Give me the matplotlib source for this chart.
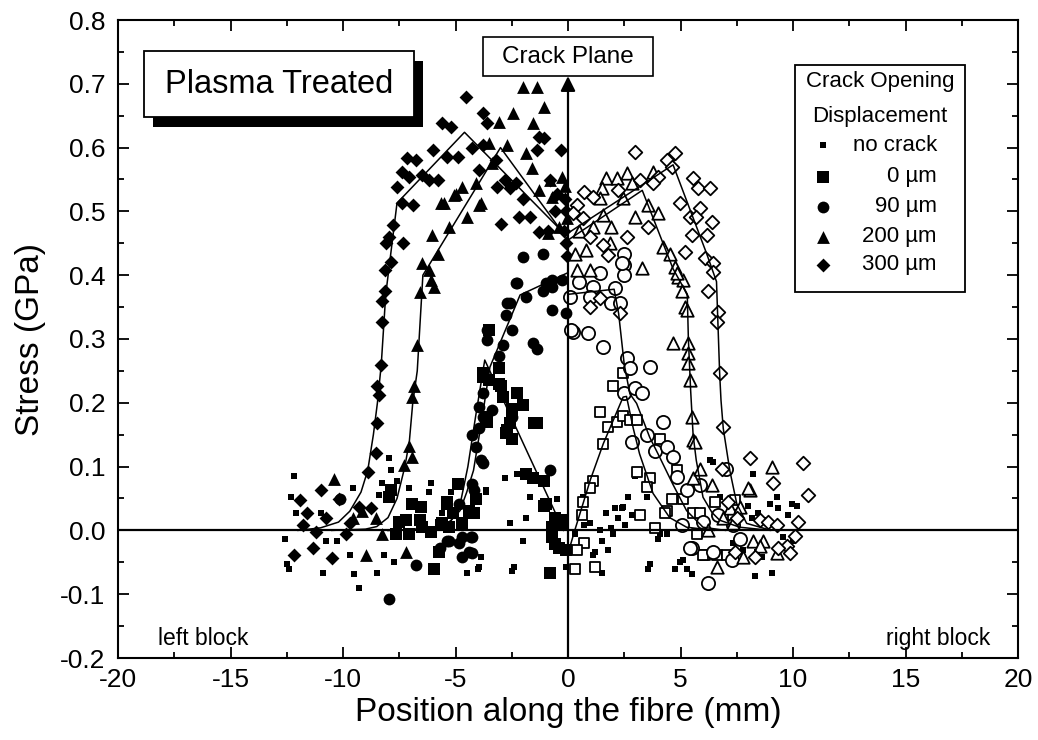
import matplotlib
matplotlib.use("Agg")
import matplotlib.pyplot as plt
from matplotlib.patches import Rectangle
from matplotlib.ticker import MultipleLocator

plt.rcParams['font.family'] = ['Liberation Sans', 'DejaVu Sans']
plt.rcParams['axes.unicode_minus'] = False

# ---------------- data ----------------
# 300 um (filled diamonds, left block)
d300L_x = [-4.53,-3.8,-3.58,-5.58,-5.18,-1.27,-1.05,-0.3,-1.4,-7.14,-6.75,-6.0,-5.4,-4.9,-4.25,-3.8,
           -7.36,-7.05,-6.47,-6.16,-5.8,-7.58,-6.9,-7.4,-7.8,-7.95,-7.35,-8.1,-7.85,-8.15,-8.15,-8.25,
           -8.25,-8.3,-3.94,-3.14,-2.6,-2.02,-2.96,-2.16,-1.71,-1.27,-0.82,-0.47,-3.2,-2.8,-2.3,
           -8.47,-8.4,-8.47,-8.52,-8.9,-10.97,-10.2,-11.9,-11.6,-10.75,-11.8,-11.2,-9.86,-9.3,-8.75,
           -11.35,-12.2,-10.5,-9.7,-0.15,-0.1,-0.2,-0.1,-0.05,-0.6,-0.9]
d300L_y = [0.68,0.654,0.638,0.638,0.632,0.617,0.615,0.596,0.596,0.584,0.58,0.596,0.585,0.585,0.6,0.604,
           0.562,0.554,0.557,0.549,0.549,0.538,0.51,0.513,0.478,0.46,0.45,0.45,0.42,0.408,0.376,0.36,
           0.326,0.26,0.565,0.538,0.537,0.52,0.48,0.491,0.491,0.467,0.549,0.528,0.58,0.549,0.544,
           0.227,0.212,0.168,0.122,0.091,0.063,0.05,0.047,0.027,0.019,0.008,-0.003,-0.005,0.036,0.035,
           -0.027,-0.039,-0.044,0.011,0.52,0.50,0.47,0.45,0.43,0.50,0.47]

# 200 um (filled triangles, left block)
t200L_x = [-2.02,-1.4,-1.05,-2.46,-3.05,-1.56,-3.5,-2.7,-1.85,-1.6,-3.36,-4.07,-4.7,-5.05,-5.5,-3.85,
           -4.47,-5.27,-0.82,-0.25,-1.27,-0.69,-0.9,-0.38,-5.63,-4.97,-3.94,-6.03,-5.8,-6.47,-6.16,
           -6.07,-5.94,-6.6,-6.7,-6.83,-6.92,-7.05,-6.92,-7.27,-10.4,-8.97,-8.25,-9.57,-9.14,-7.2,-8.52,
           -0.15,-0.05]
t200L_y = [0.695,0.695,0.664,0.654,0.64,0.638,0.607,0.604,0.591,0.568,0.576,0.544,0.538,0.525,0.513,0.513,
           0.491,0.475,0.549,0.554,0.533,0.522,0.466,0.475,0.513,0.528,0.51,0.463,0.434,0.419,0.408,
           0.392,0.381,0.373,0.29,0.227,0.209,0.133,0.115,0.102,0.081,-0.039,-0.005,0.02,0.031,-0.034,0.02,
           0.54,0.49]

# 90 um (filled circles, left block)
c90L_x = [-2.25,-1.85,-0.96,-0.69,-1.13,-0.69,-0.07,-2.69,-2.74,-2.51,-3.58,-3.58,-1.56,-1.4,-2.91,-3.05,
          -3.8,-3.94,-3.36,-3.8,-3.94,-4.25,-2.47,-4.07,-3.85,-3.8,-0.82,-4.25,-4.16,-4.83,-5.36,-4.7,
          -4.25,-4.7,-4.25,-5.7,-7.94,-6.74,-10.15,-5.27,-4.83,-4.3,-4.38,-2.02,-1.13,-2.3,-2.6,-0.69,-0.25]
c90L_y = [0.387,0.366,0.387,0.381,0.376,0.345,0.34,0.356,0.337,0.314,0.314,0.298,0.293,0.285,0.29,0.274,
          0.215,0.193,0.188,0.177,0.161,0.149,0.177,0.13,0.11,0.105,0.094,0.073,0.063,0.042,-0.016,-0.011,
          -0.011,-0.042,-0.036,-0.027,-0.107,-0.055,0.05,-0.016,-0.02,-0.011,-0.034,0.428,0.434,0.387,0.356,0.392,0.392]

# 0 um (filled squares, left block)
s0L_x = [-3.49,-3.8,-3.49,-3.05,-2.96,-2.91,-2.25,-2.02,-2.51,-1.4,-2.6,-2.74,-2.47,-3.63,-3.58,-1.85,
         -1.56,-1.05,-0.96,-4.9,-4.07,-4.38,-5.4,-5.13,-5.58,-0.6,-0.29,-0.69,-0.38,-0.82,-0.07,
         -3.8,-3.05,-1.49,-2.51,-2.69,-7.87,-7.94,-6.92,-6.52,-5.4,-4.16,-7.5,-7.2,-7.63,-6.47,-6.07,
         -5.63,-5.27,-4.7,-6.6,-7.05,-5.72,-5.94,-1.05,-0.69,-0.25,-0.6]
s0L_y = [0.314,0.246,0.235,0.254,0.227,0.209,0.215,0.196,0.191,0.168,0.168,0.152,0.144,0.177,0.17,0.089,
         0.082,0.078,0.042,0.073,0.05,0.031,0.042,0.027,0.011,0.02,0.011,-0.011,-0.027,-0.066,-0.031,
         0.24,0.23,0.168,0.185,0.157,0.063,0.052,0.042,0.036,0.044,0.028,0.013,0.016,-0.005,0.005,-0.003,
         0.008,0.005,0.011,0.016,-0.005,-0.034,-0.06,0.039,0.005,0.016,-0.021]

# no crack (small filled squares, both sides)
nc_x = [-12.17,-12.3,-12.08,-12.6,-12.5,-12.4,-9.57,-10.97,-10.75,-10.25,-9.7,-10.9,-9.5,-9.27,-8.47,-8.16,
        -7.72,-7.94,-7.87,-8.25,-8.4,-7.58,-7.05,-6.07,-6.16,-5.58,-5.18,-3.63,-2.82,-2.25,-1.71,-1.85,
        -2.6,-2.02,-2.51,-4.47,-3.94,-0.47,-0.07,-2.38,-4.02,-3.85,-3.63,
        2.65,3.49,2.07,2.38,1.71,2.83,2.2,2.52,0.96,1.4,1.93,1.98,1.49,1.18,1.76,1.09,1.53,3.63,3.54,
        4.07,3.98,4.38,2.96,4.74,4.96,5.27,5.5,0.29,0.73,0.65,6.3,6.43,8.2,9.28,8.97,9.32,9.95,10.17,
        9.77,7.99,8.43,8.16,8.65,6.74,9.55,10.0,9.41,7.32,7.77,8.38,8.61,8.3,9.05,5.1,2.44]
nc_y = [0.086,0.052,0.027,-0.013,-0.052,-0.06,0.066,0.027,-0.016,-0.016,-0.039,-0.066,-0.068,-0.091,-0.066,-0.039,
        -0.05,0.113,0.094,0.075,0.055,0.078,0.066,0.075,0.06,0.028,0.06,0.06,0.082,0.089,0.052,0.02,
        0.011,-0.016,-0.063,-0.066,-0.058,0.05,-0.058,-0.058,-0.06,-0.042,0.063,
        0.052,0.052,0.035,0.035,0.027,0.024,0.019,0.008,0.011,0.0,0.003,-0.005,-0.016,-0.034,-0.031,-0.039,-0.066,-0.052,-0.06,
        -0.005,-0.013,-0.005,0.086,-0.06,-0.05,-0.06,-0.068,-0.005,0.008,0.052,0.11,0.107,0.089,0.052,0.042,0.035,0.042,0.039,
        0.024,0.039,0.027,0.02,0.016,0.052,-0.011,-0.016,-0.027,-0.019,-0.031,-0.034,-0.042,-0.071,-0.066,-0.047,0.036]

# 0 um (open squares, right block)
s0R_x = [1.98,2.43,1.4,1.76,2.16,2.43,2.74,3.05,1.56,4.07,3.05,3.63,3.49,1.09,0.96,0.65,0.6,3.18,4.38,3.85,
         0.73,0.42,0.29,1.18,4.83,4.6,5.1,4.29,6.07,6.52,6.6,7.32,5.72,5.56,5.85,6.0,7.05,7.4]
s0R_y = [0.227,0.246,0.185,0.162,0.17,0.18,0.173,0.173,0.136,0.144,0.091,0.082,0.068,0.078,0.066,0.044,0.024,0.024,0.031,0.003,
         -0.02,-0.031,-0.06,-0.058,0.094,0.05,0.05,0.028,-0.039,0.044,-0.039,0.024,-0.005,0.027,0.027,-0.039,-0.039,0.047]

# 90 um (open circles, right block)
c90R_x = [2.51,2.51,2.51,2.38,1.4,1.09,0.51,0.07,2.07,1.93,0.96,0.2,0.87,1.56,2.6,3.63,2.29,2.74,2.51,2.96,
          3.27,2.83,3.49,4.2,3.85,4.38,4.65,4.83,5.27,5.05,5.5,5.85,5.4,6.43,7.28,6.2,7.63,6.65,7.0,6.0,7.32,0.15]
c90R_y = [0.434,0.416,0.4,0.419,0.403,0.381,0.389,0.366,0.38,0.356,0.366,0.311,0.309,0.287,0.27,0.256,0.356,0.254,0.215,0.223,
          0.215,0.138,0.149,0.17,0.125,0.13,0.115,0.083,0.063,0.008,-0.028,0.071,-0.027,-0.034,-0.047,-0.082,-0.013,0.024,0.097,0.013,0.008,0.314]

# 200 um (open triangles, right block)
t200R_x = [1.71,2.16,2.6,2.83,3.76,1.49,1.4,1.56,1.09,1.93,2.96,3.54,4.0,2.43,4.2,4.52,3.3,4.74,4.87,5.1,
           5.05,5.18,5.27,4.65,5.32,5.32,5.32,0.51,0.82,0.29,0.38,0.96,1.85,4.83,5.4,5.5,5.56,5.56,5.64,5.85,
           6.38,8.07,9.05,7.19,7.63,6.87,7.32,8.2,8.65,7.77,8.52,9.28,6.6,6.2,8.0]
t200R_y = [0.552,0.552,0.56,0.544,0.562,0.537,0.521,0.494,0.475,0.475,0.491,0.51,0.497,0.521,0.444,0.434,0.411,0.413,0.397,0.392,
           0.376,0.35,0.345,0.293,0.293,0.278,0.262,0.47,0.439,0.434,0.408,0.408,0.45,0.403,0.235,0.177,0.141,0.082,0.138,0.097,
           0.071,0.063,0.099,0.035,0.036,0.019,0.011,-0.016,-0.016,-0.042,-0.024,-0.036,-0.058,0.0,0.066]

# 300 um (open diamonds, right block)
d300R_x = [2.96,4.38,4.74,4.6,4.0,3.18,3.76,5.56,5.78,6.3,2.2,4.96,5.85,5.4,5.7,6.38,3.54,5.5,6.16,2.6,
           5.18,6.07,6.43,6.43,6.2,6.65,6.6,6.74,0.73,1.09,0.42,0.65,0.96,0.2,1.56,1.76,0.96,1.4,2.29,6.87,
           8.07,6.83,9.1,10.44,10.66,7.5,8.52,8.87,9.28,10.2,10.1,9.72,9.86,9.32,8.3,7.41,7.1]
d300R_y = [0.593,0.58,0.591,0.569,0.554,0.549,0.544,0.552,0.537,0.537,0.533,0.513,0.505,0.491,0.491,0.483,0.475,0.463,0.463,0.46,
           0.436,0.427,0.419,0.405,0.376,0.342,0.326,0.246,0.53,0.522,0.51,0.49,0.46,0.497,0.447,0.431,0.35,0.364,0.34,0.162,
           0.113,0.097,0.075,0.105,0.055,0.019,0.016,0.013,0.008,0.013,-0.008,-0.024,-0.036,-0.027,-0.042,-0.034,0.044]

# guide curves
line_d300L_x = [-12.0,-11.0,-10.2,-9.7,-9.2,-8.9,-8.65,-8.47,-8.3,-8.1,-7.6,-4.6,-0.3]
line_d300L_y = [0.0,0.004,0.013,0.03,0.06,0.094,0.15,0.2,0.26,0.37,0.513,0.624,0.47]
line_t200L_x = [-10.5,-9.0,-8.5,-8.0,-7.6,-7.25,-7.05,-6.9,-6.7,-6.45,-3.0,-0.1]
line_t200L_y = [0.0,0.002,0.006,0.02,0.05,0.1,0.14,0.2,0.25,0.40,0.60,0.46]
line_c90L_x = [-8.0,-6.0,-5.3,-4.8,-4.5,-4.2,-3.8,-3.47,-2.13,-0.06]
line_c90L_y = [0.0,0.003,0.012,0.031,0.06,0.094,0.18,0.256,0.369,0.403]
line_s0L_x = [-8.0,-6.0,-5.2,-4.8,-4.45,-4.1,-3.7,-0.2]
line_s0L_y = [0.0,0.003,0.015,0.04,0.1,0.18,0.267,0.0]
line_s0R_x = [0.05,0.3,1.0,1.57,2.45,2.6,2.9,3.18,3.78,4.52,5.27,6.5]
line_s0R_y = [-0.03,0.0,0.08,0.136,0.209,0.21,0.16,0.12,0.058,0.02,0.005,0.0]
line_c90R_x = [0.0,2.05,2.25,2.5,2.75,3.05,3.63,4.07,4.65,5.27,6.0,7.0]
line_c90R_y = [0.37,0.378,0.34,0.26,0.214,0.199,0.146,0.115,0.073,0.031,0.005,0.0]
line_t200R_x = [0.0,3.3,4.67,5.3,5.35,5.45,5.56,5.7,6.0,6.4,6.74,7.63,9.0]
line_t200R_y = [0.455,0.533,0.41,0.37,0.30,0.22,0.15,0.11,0.052,0.028,0.016,0.005,0.0]
line_d300R_x = [0.0,4.67,6.16,6.6,6.74,6.8,6.9,7.19,7.5,7.94,8.83]
line_d300R_y = [0.466,0.573,0.434,0.39,0.246,0.204,0.16,0.094,0.042,0.011,0.002]

x_ticks = [-20, -15, -10, -5, 0, 5, 10, 15, 20]
x_ticklabels = ['-20', '-15', '-10', '-5', '0', '5', '10', '15', '20']
y_ticks = [-0.2, -0.1, 0.0, 0.1, 0.2, 0.3, 0.4, 0.5, 0.6, 0.7, 0.8]
y_ticklabels = ['-0.2', '-0.1', '0.0', '0.1', '0.2', '0.3', '0.4', '0.5', '0.6', '0.7', '0.8']
legend_labels = ['no crack', '0 \u00b5m', '90 \u00b5m', '200 \u00b5m', '300 \u00b5m']

# ---------------- figure ----------------
fig = plt.figure(figsize=(10.38, 7.40), dpi=100)
ax = fig.add_axes([118/1038, 82/740, 900/1038, 638/740])
ax.set_xlim(-20, 20)
ax.set_ylim(-0.2, 0.8)

K = 'black'
ew = 1.3
ax.scatter(nc_x, nc_y, marker='s', s=20, c=K, linewidths=0, zorder=2)
ax.scatter(s0L_x, s0L_y, marker='s', s=64, c=K, linewidths=0, zorder=2)
ax.scatter(c90L_x, c90L_y, marker='o', s=72, c=K, linewidths=0, zorder=2)
ax.scatter(t200L_x, t200L_y, marker='^', s=85, c=K, linewidths=0, zorder=2)
ax.scatter(d300L_x, d300L_y, marker='D', s=50, c=K, linewidths=0, zorder=2)
ax.scatter(s0R_x, s0R_y, marker='s', s=60, facecolors='white', edgecolors=K, linewidths=ew, zorder=2)
ax.scatter(c90R_x, c90R_y, marker='o', s=90, facecolors='white', edgecolors=K, linewidths=ew, zorder=2)
ax.scatter(t200R_x, t200R_y, marker='^', s=80, facecolors='white', edgecolors=K, linewidths=ew, zorder=2)
ax.scatter(d300R_x, d300R_y, marker='D', s=48, facecolors='white', edgecolors=K, linewidths=ew, zorder=2)

for lx, ly in [(line_d300L_x, line_d300L_y), (line_t200L_x, line_t200L_y),
               (line_c90L_x, line_c90L_y), (line_s0L_x, line_s0L_y),
               (line_s0R_x, line_s0R_y), (line_c90R_x, line_c90R_y),
               (line_t200R_x, line_t200R_y), (line_d300R_x, line_d300R_y)]:
    ax.plot(lx, ly, color=K, lw=1.1, zorder=4)

# zero line and crack plane
ax.axhline(0.0, color=K, lw=1.6, zorder=3)
ax.annotate('', xy=(0, 0.712), xytext=(0, -0.2),
            arrowprops=dict(arrowstyle='-|>', color=K, lw=1.6, mutation_scale=22,
                            shrinkA=0, shrinkB=0), zorder=5)
ax.add_patch(Rectangle((-3.8, 0.712), 7.56, 0.061, fc='white', ec=K, lw=1.2, zorder=6))
ax.text(0, 0.742, 'Crack Plane', ha='center', va='center', fontsize=17.5, zorder=7)

# Plasma Treated box with shadow
ax.add_patch(Rectangle((-18.44, 0.633), 12.01, 0.103, fc=K, ec=K, lw=0, zorder=6))
ax.add_patch(Rectangle((-18.84, 0.648), 12.01, 0.103, fc='white', ec=K, lw=1.3, zorder=7))
ax.text(-12.84, 0.699, 'Plasma Treated', ha='center', va='center', fontsize=23.5, zorder=8)

# legend box
ax.add_patch(Rectangle((10.08, 0.373), 7.56, 0.356, fc='white', ec=K, lw=1.3, zorder=6))
ax.text(13.86, 0.703, 'Crack Opening', ha='center', va='center', fontsize=16, zorder=7)
ax.text(13.86, 0.648, 'Displacement', ha='center', va='center', fontsize=16, zorder=7)
leg_y = [0.604, 0.554, 0.507, 0.46, 0.416]
leg_m = [('s', 20), ('s', 64), ('o', 72), ('^', 85), ('D', 50)]
for (m, sz), yy, lab in zip(leg_m, leg_y, legend_labels):
    ax.scatter([11.32], [yy], marker=m, s=sz, c=K, linewidths=0, zorder=7)
    ax.text(16.4, yy, lab, ha='right', va='center', fontsize=16, zorder=7)

ax.text(-18.2, -0.169, 'left block', ha='left', va='center', fontsize=16.5)
ax.text(18.75, -0.169, 'right block', ha='right', va='center', fontsize=16.5)

# axes styling
for sp in ax.spines.values():
    sp.set_linewidth(1.5)
ax.set_xticks(x_ticks)
ax.set_xticklabels(x_ticklabels)
ax.set_yticks(y_ticks)
ax.set_yticklabels(y_ticklabels)
ax.xaxis.set_minor_locator(MultipleLocator(2.5))
ax.yaxis.set_minor_locator(MultipleLocator(0.05))
ax.tick_params(which='both', direction='in', top=True, right=True, width=1.3)
ax.tick_params(which='major', length=8, labelsize=19)
ax.tick_params(which='minor', length=4.5)
ax.tick_params(axis='y', pad=9)
ax.tick_params(axis='x', pad=7)
ax.set_xlabel('Position along the fibre (mm)', fontsize=24, labelpad=4)
ax.set_ylabel('Stress (GPa)', fontsize=24, labelpad=10)

fig.savefig('out.png', dpi=100)
